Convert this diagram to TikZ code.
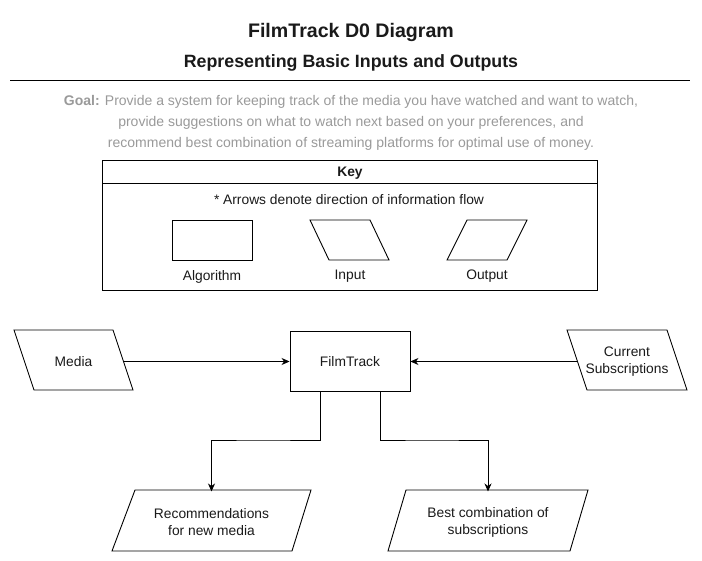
\documentclass[tikz,border=0pt]{standalone}
\usepackage{fontspec}
\setmainfont{Liberation Sans}
\usetikzlibrary{arrows.meta}
\definecolor{goalgray}{HTML}{9A9A9A}
\definecolor{ink}{HTML}{1A1A1A}
\begin{document}
\begin{tikzpicture}[x=1pt,y=-1pt,
  every node/.style={font=\fontsize{13.8}{17}\selectfont, text=ink, inner sep=0pt, yshift=-1.5pt},
  shapeline/.style={draw=black, line width=0.9pt},
  lbl/.style={align=center},
  algobox/.style={draw=black, line width=0.9pt, minimum width=120pt, minimum height=60pt, yshift=0pt},
  flow/.style={draw=black, line width=0.9pt, -{Stealth[length=8pt,width=7pt,inset=2.5pt]}}
]
\fill[white] (0,0) rectangle (702,561);
\useasboundingbox (0,0) rectangle (702,561);

% titles
\node (title) at (351,31) {\fontsize{19.6}{23}\selectfont\bfseries FilmTrack D0 Diagram};
\node (subtitle) at (351,61) {\fontsize{17.8}{21}\selectfont\bfseries Representing Basic Inputs and Outputs};
\draw[line width=0.9pt] (10,80) -- (690,80);

% goal
\node[lbl, text=goalgray, font=\fontsize{14}{21}\selectfont] (goal) at (351,121)
  {\textbf{Goal:} Provide a system for keeping track of the media you have watched and want to watch,\\
   provide suggestions on what to watch next based on your preferences, and\\
   recommend best combination of streaming platforms for optimal use of money.};

% key
\draw[shapeline] (102,160) rectangle (597,290);
\draw[shapeline] (102,183) -- (597,183);
\node (keytitle) at (350,172) {\bfseries Key};
\node (keynote) at (349,198) {* Arrows denote direction of information flow};
\draw[shapeline] (172,220) rectangle (252,260);
\node (kalgo) at (212,275) {Algorithm};
\draw[shapeline] (310,220) -- (370,220) -- (389,260) -- (329,260) -- cycle;
\node (kinput) at (350,275) {Input};
\draw[shapeline] (467,220) -- (527,220) -- (507,260) -- (447,260) -- cycle;
\node (koutput) at (487,275) {Output};

% main diagram
\node[algobox] (ft) at (350,360) {FilmTrack};

\draw[shapeline] (14,330) -- (113,330) -- (133,390) -- (34,390) -- cycle;
\node (media) at (73.5,360) {Media};
\coordinate (mediaE) at (123,360);

\draw[shapeline] (567,330) -- (667,330) -- (687,390) -- (587,390) -- cycle;
\node[lbl] (subs) at (627,360) {Current\\Subscriptions};
\coordinate (subsW) at (577,360);

\draw[shapeline] (135,490) -- (311,490) -- (292,551) -- (112,551) -- cycle;
\node[lbl] (rec) at (211.5,520.5) {Recommendations\\for new media};
\coordinate (recN) at (211.5,490);

\draw[shapeline] (406,490) -- (588,490) -- (570,551) -- (388,551) -- cycle;
\node[lbl] (best) at (488,520.5) {Best combination of\\subscriptions};
\coordinate (bestN) at (488,490);

\draw[flow] (mediaE) -- (ft.west);
\draw[flow] (subsW) -- (ft.east);
\draw[flow] ([xshift=-29.5pt]ft.south) |- (261,440) -| (recN);
\draw[flow] ([xshift=30.5pt]ft.south) |- (430,440) -| (bestN);
\end{tikzpicture}
\end{document}
